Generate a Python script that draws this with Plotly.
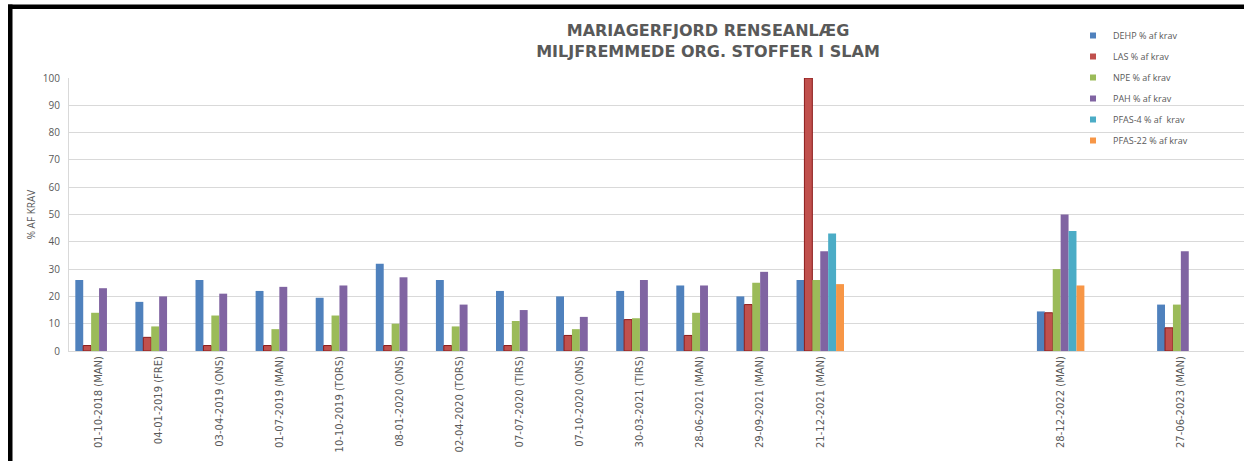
import plotly.graph_objects as go

# ---------------- data ----------------
categories = [
    "01-10-2018 (MAN)", "04-01-2019 (FRE)", "03-04-2019 (ONS)", "01-07-2019 (MAN)",
    "10-10-2019 (TORS)", "08-01-2020 (ONS)", "02-04-2020 (TORS)", "07-07-2020 (TIRS)",
    "07-10-2020 (ONS)", "30-03-2021 (TIRS)", "28-06-2021 (MAN)", "29-09-2021 (MAN)",
    "21-12-2021 (MAN)", " ", "  ", "   ", "28-12-2022 (MAN)", "    ", "27-06-2023 (MAN)",
]
series_names = ["DEHP % af krav", "LAS % af krav", "NPE % af krav",
                "PAH % af krav", "PFAS-4 % af  krav", "PFAS-22 % af krav"]
dehp = [26, 18, 26, 22, 19.5, 32, 26, 22, 20, 22, 24, 20, 26, None, None, None, 14.5, None, 17]
las = [2, 5, 2, 2, 2, 2, 2, 2, 5.7, 11.5, 5.7, 17, 100, None, None, None, 14, None, 8.5]
npe = [14, 9, 13, 8, 13, 10, 9, 11, 8, 12, 14, 25, 26, None, None, None, 30, None, 17]
pah = [23, 20, 21, 23.5, 24, 27, 17, 15, 12.5, 26, 24, 29, 36.5, None, None, None, 50, None, 36.5]
pfas4 = [None] * 12 + [43] + [None] * 3 + [44] + [None, None]
pfas22 = [None] * 12 + [24.5] + [None] * 3 + [24] + [None, None]
series_values = [dehp, las, npe, pah, pfas4, pfas22]
colors = ["#4F81BD", "#C0504D", "#9BBB59", "#8064A2", "#4BACC6", "#F79646"]
outline = ["rgba(0,0,0,0)", "#8B1A1A", "rgba(0,0,0,0)", "rgba(0,0,0,0)", "rgba(0,0,0,0)", "rgba(0,0,0,0)"]

# ---------------- layout constants ----------------
W, H = 1244, 461
ML, MR, MT, MB = 69, 0, 78, 110
PW, PH = W - ML - MR, H - MT - MB
CAT_PX = 60.1
GRAY = "#595959"
FONT = "Open Sans"

def px_x(x):
    return (x - ML) / PW

def px_y(y):
    return (H - MB - y) / PH

fig = go.Figure()
for i, (name, vals) in enumerate(zip(series_names, series_values)):
    fig.add_trace(go.Bar(
        x=categories, y=vals, name=name, showlegend=False, legendgroup=name,
        marker=dict(color=colors[i], line=dict(color=outline[i], width=1 if i == 1 else 0)),
    ))
for i, name in enumerate(series_names):
    fig.add_trace(go.Scatter(
        x=[None], y=[None], mode="markers", name=name, legendgroup=name,
        marker=dict(symbol="square", size=6, color=colors[i]),
    ))

shapes = [
    dict(type="rect", xref="paper", yref="paper", x0=px_x(8), x1=px_x(W + 5),
         y0=px_y(9), y1=px_y(4.5), fillcolor="black", line=dict(width=0), layer="above"),
    dict(type="rect", xref="paper", yref="paper", x0=px_x(8), x1=px_x(12.5),
         y0=px_y(H + 5), y1=px_y(4.5), fillcolor="black", line=dict(width=0), layer="above"),
]

fig.update_layout(
    width=W, height=H,
    margin=dict(l=ML, r=MR, t=MT, b=MB, autoexpand=False),
    paper_bgcolor="white", plot_bgcolor="white",
    barmode="group", bargap=0.21, bargroupgap=0,
    font=dict(family=FONT, color=GRAY),
    title=dict(
        text="<b>MARIAGERFJORD RENSEANLÆG<br>MILJFREMMEDE ORG. STOFFER I SLAM</b>",
        x=px_x(708), xanchor="center", xref="paper",
        yref="container", y=1 - 36 / H, yanchor="middle",
        font=dict(family="DejaVu Sans", size=16, color=GRAY),
    ),
    xaxis=dict(
        type="category", range=[-0.5, -0.5 + PW / CAT_PX],
        tickangle=-90, tickfont=dict(size=10, color=GRAY, family="DejaVu Sans"),
        showgrid=False, showline=True, linecolor="#D9D9D9", linewidth=1,
        ticks="", fixedrange=True,
    ),
    yaxis=dict(
        range=[0, 100], dtick=10, showgrid=True, gridcolor="#D9D9D9", gridwidth=1,
        showline=True, linecolor="#D9D9D9", zeroline=False,
        tickfont=dict(size=10, color=GRAY, family=FONT), ticks="",
        ticklabelstandoff=6,
        title=dict(text="% AF KRAV", font=dict(size=10, color=GRAY, family=FONT), standoff=5),
    ),
    legend=dict(
        x=px_x(1073), xanchor="left", y=px_y(21), yanchor="top",
        font=dict(size=9, color=GRAY, family=FONT), bgcolor="rgba(0,0,0,0)",
        tracegroupgap=2,
    ),
    shapes=shapes,
)

fig.write_html("out.html", config={"displayModeBar": False},
               post_script="document.body.style.margin='0';")
